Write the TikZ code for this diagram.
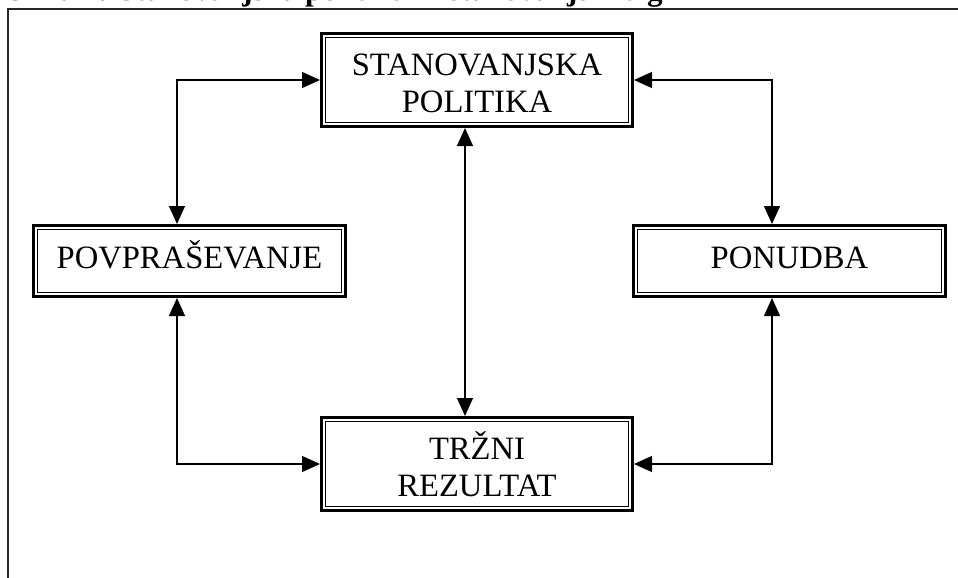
\documentclass[tikz,border=0pt]{standalone}
\usepackage{fontspec}
\setmainfont{Liberation Serif}
\usetikzlibrary{arrows.meta}
\begin{document}
\begin{tikzpicture}[x=1pt,y=-1pt,
  boxst/.style={draw, line width=3pt, rectangle, inner sep=0pt},
  innerln/.style={line width=1.3pt},
  txt/.style={anchor=base, inner sep=0pt, font=\fontsize{32.6}{37}\selectfont},
  arr/.style={line width=1.3pt, {Triangle[length=18pt,width=16pt]}-{Triangle[length=18pt,width=16pt]}},
  frame/.style={line width=1.6pt, draw=black!85}]
\useasboundingbox (0,0) rectangle (958,578);
\clip (0,0) rectangle (958,578);
% title (cut off at the top)
\node[anchor=base west, inner sep=0pt, font=\bfseries\fontsize{31}{36}\selectfont] (title) at (7,0.8)
  {Slika 2: Stanovanjska politika in stanovanjski trg};
% frame
\draw[frame] (8,600) -- (8,9) -- (980,9);
% boxes
\node[boxst, minimum width=311pt, minimum height=93pt] (pol) at (477,80) {};
\node[boxst, minimum width=311pt, minimum height=93pt] (trz) at (477,464) {};
\node[boxst, minimum width=312pt, minimum height=71pt] (pov) at (189.5,261) {};
\node[boxst, minimum width=312pt, minimum height=71pt] (pon) at (789.5,261) {};
\foreach \n in {pol,trz,pov,pon}
  \draw[innerln] ([xshift=5.5pt,yshift=-5.5pt]\n.north west) rectangle ([xshift=-5.5pt,yshift=5.5pt]\n.south east);
% texts
\node[txt] (polA) at (477,75) {STANOVANJSKA};
\node[txt] (polB) at (477,112) {POLITIKA};
\node[txt] (povA) at (189.5,268) {POVPRAŠEVANJE};
\node[txt] (ponA) at (789.5,268) {PONUDBA};
\node[txt] (trzA) at (477,459) {TRŽNI};
\node[txt] (trzB) at (477,496) {REZULTAT};
% connector guide coordinates
\coordinate (lx) at (177,0);
\coordinate (rx) at (772,0);
\coordinate (cx) at (465,0);
% connectors
\draw[arr] (pol.west) -| (lx |- pov.north);
\draw[arr] (pol.east) -| (rx |- pon.north);
\draw[arr] (trz.west) -| (lx |- pov.south);
\draw[arr] (trz.east) -| (rx |- pon.south);
\draw[arr] (cx |- pol.south) -- (cx |- trz.north);
\end{tikzpicture}
\end{document}
